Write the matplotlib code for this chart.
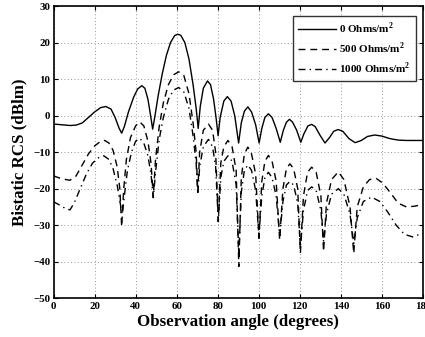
import matplotlib
matplotlib.use("Agg")
import matplotlib.pyplot as plt

# ---- data ----
ang0 = [0, 4, 8, 11, 14, 17, 20, 23, 25.5, 28, 30, 32, 33.2, 34.5, 36.5, 39, 41, 43, 44.5, 46,
        47.3, 48.3, 49.3, 51, 53, 55, 57, 59, 60.5, 62, 64, 66, 68, 69.5, 70.5, 71.5, 73, 75,
        76.5, 78, 79.3, 80.2, 81.2, 83, 84.7, 86.5, 88.3, 90.2, 91.5, 93, 94.7, 96.5, 98.5,
        100.2, 101.5, 103, 104.7, 106.5, 108.5, 110.5, 112, 113.5, 115, 116.5, 118.5, 120.5,
        122, 124, 125.8, 127.5, 130, 132.3, 134.5, 136.5, 138.7, 141, 144, 147, 150, 153,
        156.5, 160, 164, 168, 172, 180]
rcs0 = [-2.3, -2.5, -2.7, -2.6, -2.0, -0.5, 1.0, 2.2, 2.5, 1.8, -0.5, -3.5, -4.8, -3.0, 1.0,
        5.0, 7.3, 8.2, 7.5, 4.5, 0.0, -3.7, -0.5, 5.5, 11.5, 16.5, 20.0, 21.9, 22.3, 22.0,
        20.0, 15.5, 8.5, 2.0, -3.5, 2.5, 7.5, 9.5, 8.5, 4.5, -1.0, -5.5, -0.5, 4.0, 5.2, 4.0,
        0.0, -7.5, -2.0, 1.2, 2.4, 1.0, -2.5, -7.5, -3.5, -0.5, 0.5, -0.5, -3.5, -7.3, -4.0,
        -1.8, -1.0, -1.8, -4.0, -7.3, -5.0, -2.8, -2.4, -3.0, -5.5, -7.5, -6.0, -4.3, -3.8,
        -4.3, -6.3, -7.4, -6.8, -5.7, -5.3, -5.6, -6.3, -6.7, -6.8, -6.8]

ang500 = [0, 4, 8, 11, 14, 17, 20, 23, 25, 27, 29, 31, 32.3, 33.2, 34.2, 35.5, 37.5, 40, 42,
          44, 46, 47.5, 48.6, 49.7, 51.5, 53.5, 56, 58.5, 61, 63.5, 66, 68, 69.5, 70.3, 71.2,
          73, 75.5, 77.5, 79, 80.3, 81.5, 83, 85, 87, 89, 90.3, 91.5, 93, 94.7, 96.5, 98.5,
          100.1, 101.5, 103, 104.7, 106.5, 108.5, 110.2, 111.8, 113.5, 115.2, 117, 119, 120.3,
          121.8, 123.8, 125.8, 128, 130.3, 131.6, 133, 135.5, 138.8, 141.5, 144.5, 146.3, 148,
          151, 154, 157.3, 160.5, 164, 168, 172, 176, 180]
rcs500 = [-16.5, -17.3, -17.7, -16.5, -13.5, -10.5, -8.3, -7.0, -6.8, -7.5, -9.5, -14, -20,
          -30.4, -20, -12, -6, -2.8, -1.7, -2.8, -7, -13, -22.2, -12, -3, 3.5, 8.5, 11.2, 12,
          11, 6, -2, -10, -21, -10, -4, -2.3, -4, -10, -29, -13, -8.5, -6.8, -8.5, -15, -41.3,
          -17, -10.5, -8.6, -10.5, -16, -33.6, -18, -12.5, -10.9, -12.5, -18, -34, -20, -14.5,
          -13.2, -14.5, -20, -37.7, -22, -15.5, -14.1, -15.5, -22, -37.2, -24, -17.5, -15.4,
          -17.5, -25, -37.7, -25, -19.5, -17.5, -17.2, -18.5, -21, -24, -25, -24.8, -24.3]

ang1000 = [0, 3, 6, 8, 10, 13, 16, 19, 22, 24.5, 27, 29, 31, 32.5, 33.5, 34.5, 36, 38, 40, 42,
           44, 46, 47.5, 48.6, 49.8, 51.5, 53.5, 56, 58.5, 61, 63.5, 66, 68, 69.5, 70.3, 71.2,
           73, 75.5, 77.5, 79, 80.3, 81.5, 83, 85, 87, 89, 90.3, 91.5, 93, 94.7, 96.5, 98.5,
           100.1, 101.5, 103, 104.7, 106.5, 108.5, 110.2, 111.8, 113.5, 115.2, 117, 119, 120.3,
           121.8, 123.8, 125.8, 128, 130.3, 131.6, 133, 135.5, 138.8, 141.5, 144.5, 146.3, 148,
           151, 155, 159, 163, 167, 171, 175, 178, 180]
rcs1000 = [-23.6, -24.5, -25.5, -25.8, -24, -20, -16, -13, -11.5, -11, -12, -14.5, -19, -24,
           -27, -22, -15, -10, -7, -6.2, -7.5, -11, -16, -22.5, -15, -6.5, -0.5, 4.5, 7, 7.7,
           6.5, 2, -5.5, -13, -21.5, -14, -8.5, -6.5, -8.5, -14, -29, -17, -12.5, -11, -12.5,
           -19, -38, -21, -15, -13.5, -15, -20.5, -33, -22, -17, -15.5, -17, -22, -33, -23.5,
           -19, -18, -19, -24, -36, -26, -20.5, -19.5, -20.5, -26, -34.5, -27, -21.5, -20,
           -21.5, -27, -35, -28, -23.5, -22.3, -23.5, -26.5, -30, -32.5, -33.2, -32.6, -32.2]

labels = [r'0 Ohms/m$^\mathbf{2}$', r'500 Ohms/m$^\mathbf{2}$', r'1000 Ohms/m$^\mathbf{2}$']
xticks = [0, 20, 40, 60, 80, 100, 120, 140, 160, 180]
yticks = [-50, -40, -30, -20, -10, 0, 10, 20, 30]

plt.rcParams['font.family'] = ['Liberation Serif', 'DejaVu Serif']
plt.rcParams['font.weight'] = 'bold'
plt.rcParams['mathtext.fontset'] = 'custom'
plt.rcParams['mathtext.rm'] = 'Liberation Serif:bold'
plt.rcParams['mathtext.bf'] = 'Liberation Serif:bold'

fig = plt.figure(figsize=(4.25, 3.37), dpi=100)
ax = fig.add_axes([0.126, 0.115, 0.869, 0.867])

ax.plot(ang0, rcs0, color='black', lw=1.0, linestyle='-', label=labels[0])
ax.plot(ang500, rcs500, color='black', lw=1.0, linestyle=(0, (5, 3.5)), label=labels[1])
ax.plot(ang1000, rcs1000, color='black', lw=1.0, linestyle=(0, (5, 3, 1, 3)), label=labels[2])

ax.set_xlim(0, 180)
ax.set_ylim(-50, 30)
ax.set_xticks(xticks)
ax.set_yticks(yticks)
ax.tick_params(direction='in', top=True, right=True, labelsize=7.8, length=3, width=0.8, pad=2.5)
for lab in ax.get_xticklabels() + ax.get_yticklabels():
    lab.set_fontweight('bold')
ax.grid(True, linestyle=(0, (1, 3)), color='black', linewidth=0.6, alpha=0.55)
for s in ax.spines.values():
    s.set_linewidth(1.2)

ax.set_xlabel('Observation angle (degrees)', fontsize=12.2, fontweight='bold', labelpad=2.5)
ax.set_ylabel('Bistatic RCS (dBlm)', fontsize=12.2, fontweight='bold', labelpad=4)

leg = ax.legend(loc='upper right', fontsize=8, frameon=True, fancybox=False,
                edgecolor='black', handlelength=3.4, borderpad=0.45, labelspacing=0.4,
                handletextpad=0.3, borderaxespad=0, bbox_to_anchor=(0.981, 0.966))
leg.get_frame().set_linewidth(1.0)
for t in leg.get_texts():
    t.set_fontweight('bold')

fig.savefig('out.png', dpi=100)
